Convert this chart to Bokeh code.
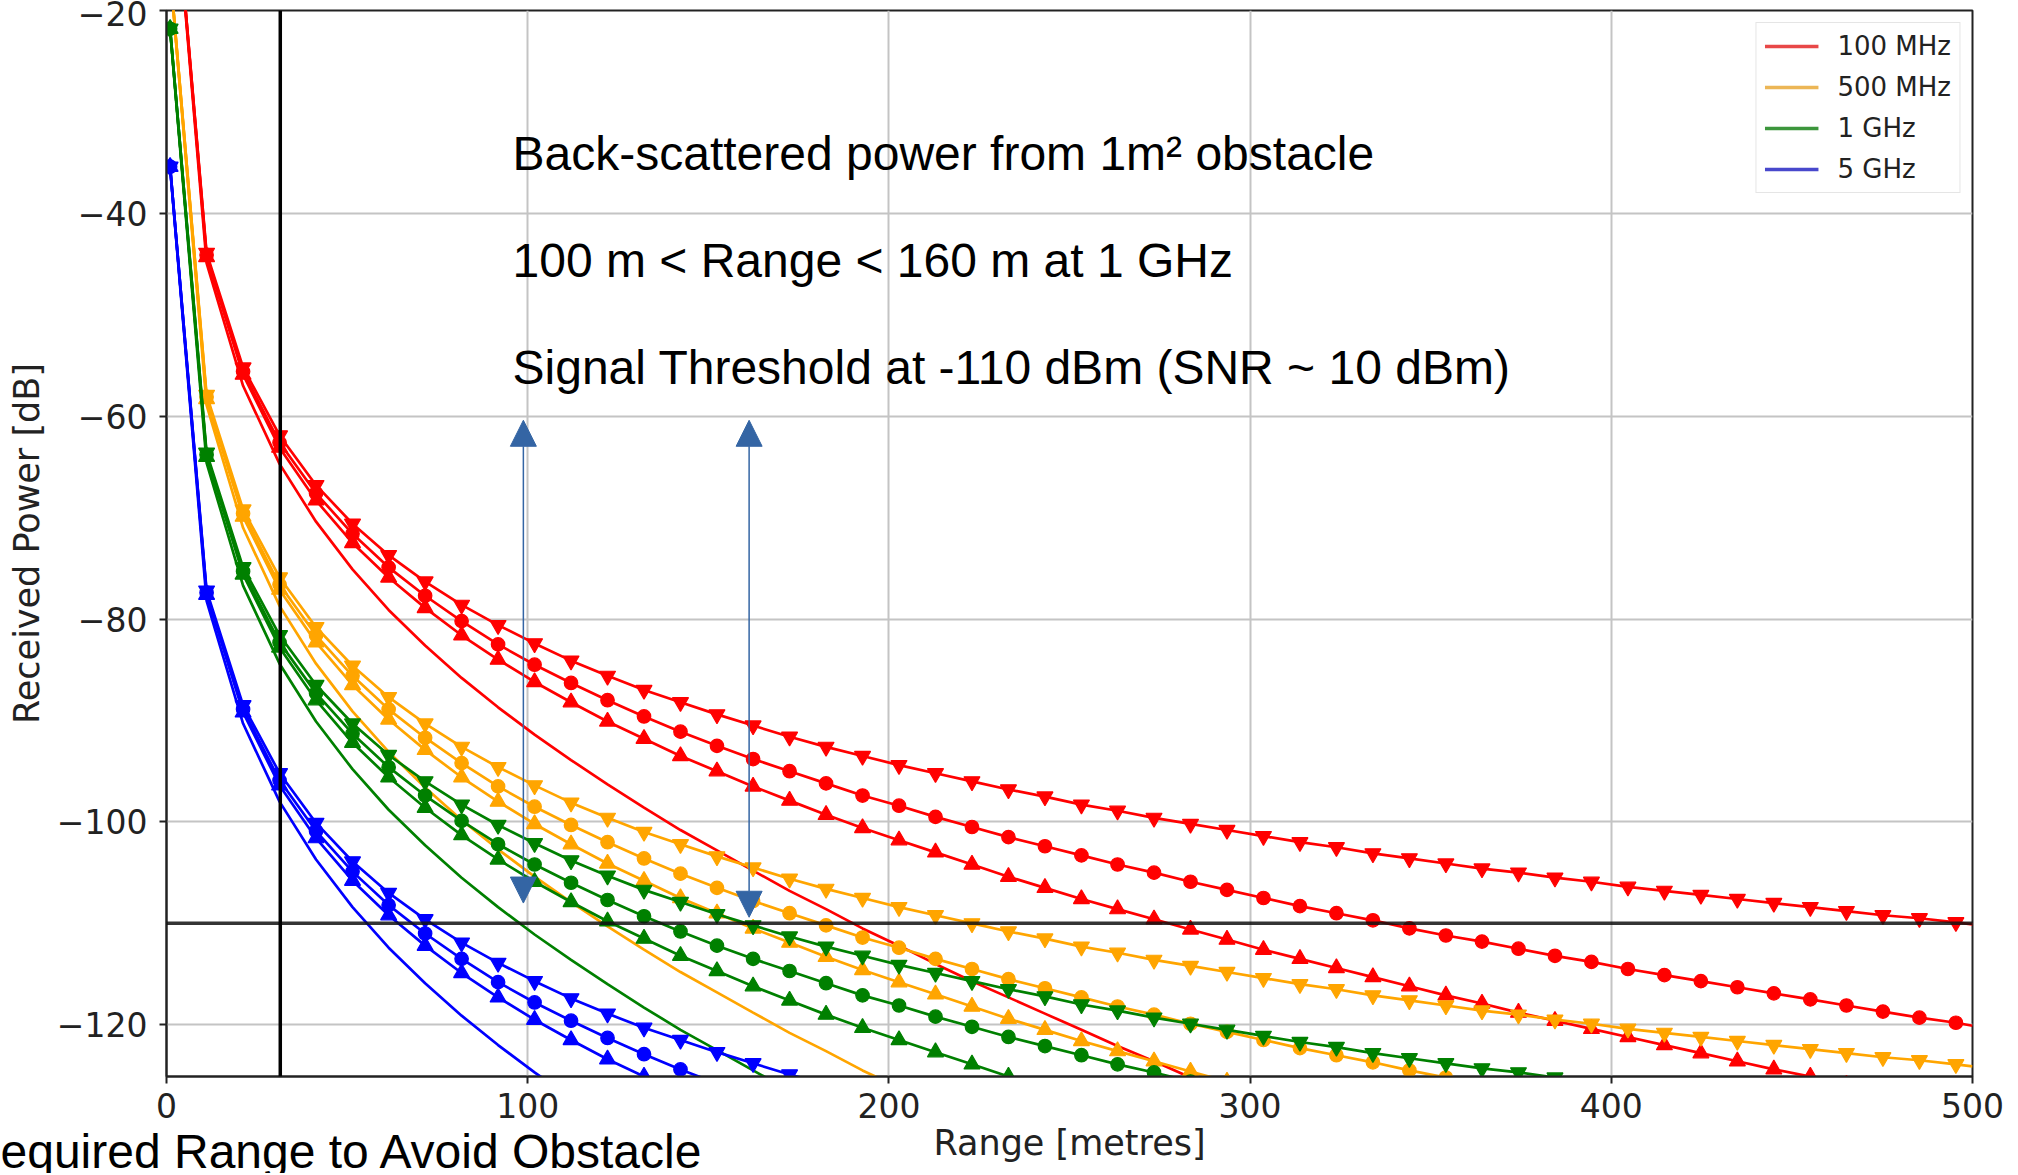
from bokeh.plotting import figure
from bokeh.models import (Range1d, FixedTicker, Span, Arrow, NormalHead, Label,
                          Legend, LegendItem, Title)
from bokeh.embed import file_html
from bokeh.resources import INLINE

# ---------------- data ----------------
range_m = [1.0, 11.1, 21.2, 31.3, 41.4, 51.5, 61.5, 71.6, 81.7, 91.8,
           101.9, 112.0, 122.1, 132.2, 142.3, 152.4, 162.4, 172.5, 182.6, 192.7,
           202.8, 212.9, 223.0, 233.1, 243.2, 253.3, 263.3, 273.4, 283.5, 293.6,
           303.7, 313.8, 323.9, 334.0, 344.1, 354.2, 364.2, 374.3, 384.4, 394.5,
           404.6, 414.7, 424.8, 434.9, 445.0, 455.1, 465.1, 475.2, 485.3, 495.4]
range_end = 500.0

frequencies = ["100 MHz", "500 MHz", "1 GHz", "5 GHz"]

red_down = [-2.1, -43.9, -55.2, -61.9, -66.8, -70.6, -73.7, -76.3, -78.6, -80.6,
            -82.4, -84.1, -85.6, -87.0, -88.2, -89.4, -90.5, -91.6, -92.6, -93.5,
            -94.4, -95.2, -96.0, -96.8, -97.5, -98.3, -98.9, -99.6, -100.2, -100.8,
            -101.4, -102.0, -102.5, -103.1, -103.6, -104.1, -104.6, -105.0, -105.5, -105.9,
            -106.4, -106.8, -107.2, -107.6, -108.0, -108.4, -108.8, -109.2, -109.5, -109.9,
            -110.1]
red_circle = [-2.1, -44.1, -55.6, -62.6, -67.6, -71.6, -74.9, -77.7, -80.2, -82.5,
              -84.5, -86.3, -88.0, -89.6, -91.1, -92.5, -93.8, -95.0, -96.2, -97.4,
              -98.4, -99.5, -100.5, -101.5, -102.4, -103.3, -104.2, -105.0, -105.9, -106.7,
              -107.5, -108.3, -109.0, -109.7, -110.5, -111.2, -111.8, -112.5, -113.2, -113.8,
              -114.5, -115.1, -115.7, -116.3, -116.9, -117.5, -118.1, -118.7, -119.3, -119.8,
              -120.1]
red_up = [-2.1, -44.3, -55.9, -63.1, -68.3, -72.5, -75.9, -78.9, -81.6, -84.0,
          -86.2, -88.2, -90.1, -91.8, -93.5, -95.0, -96.5, -97.9, -99.3, -100.6,
          -101.8, -103.0, -104.2, -105.4, -106.5, -107.6, -108.6, -109.6, -110.6, -111.6,
          -112.6, -113.5, -114.4, -115.3, -116.2, -117.1, -117.9, -118.8, -119.6, -120.4,
          -121.2, -122.0, -122.8, -123.6, -124.4, -125.1, -125.9]
red_plain = [-2.2, -44.9, -57.0, -64.7, -70.4, -75.1, -79.1, -82.6, -85.8, -88.7,
             -91.4, -93.9, -96.3, -98.6, -100.8, -102.8, -104.8, -106.8, -108.6, -110.5,
             -112.2, -114.0, -115.7, -117.3, -118.9, -120.5, -122.1, -123.6, -125.2, -126.7]

orange_down = [-16.1, -57.9, -69.2, -75.9, -80.8, -84.6, -87.7, -90.3, -92.6, -94.6,
               -96.4, -98.1, -99.6, -101.0, -102.2, -103.4, -104.5, -105.6, -106.6, -107.5,
               -108.4, -109.2, -110.0, -110.8, -111.5, -112.3, -112.9, -113.6, -114.2, -114.8,
               -115.4, -116.0, -116.5, -117.1, -117.6, -118.1, -118.6, -119.0, -119.5, -119.9,
               -120.4, -120.8, -121.2, -121.6, -122.0, -122.4, -122.8, -123.2, -123.5, -123.9,
               -124.1]
orange_circle = [-16.1, -58.1, -69.6, -76.6, -81.6, -85.6, -88.9, -91.7, -94.2, -96.5,
                 -98.5, -100.3, -102.0, -103.6, -105.1, -106.5, -107.8, -109.0, -110.2, -111.4,
                 -112.4, -113.5, -114.5, -115.5, -116.4, -117.3, -118.2, -119.0, -119.9, -120.7,
                 -121.5, -122.3, -123.0, -123.7, -124.5, -125.2, -125.8]
orange_up = [-16.1, -58.3, -69.9, -77.1, -82.3, -86.5, -89.9, -92.9, -95.6, -98.0,
             -100.2, -102.2, -104.1, -105.8, -107.5, -109.0, -110.5, -111.9, -113.3, -114.6,
             -115.8, -117.0, -118.2, -119.4, -120.5, -121.6, -122.6, -123.6, -124.6, -125.6]
orange_plain = [-16.2, -58.9, -71.0, -78.7, -84.4, -89.1, -93.1, -96.6, -99.8, -102.7,
                -105.4, -107.9, -110.3, -112.6, -114.8, -116.8, -118.8, -120.8, -122.6, -124.5,
                -126.2]

green_down = [-21.8, -63.6, -74.9, -81.6, -86.5, -90.3, -93.4, -96.0, -98.3, -100.3,
              -102.1, -103.8, -105.3, -106.7, -107.9, -109.1, -110.2, -111.3, -112.3, -113.2,
              -114.1, -114.9, -115.7, -116.5, -117.2, -118.0, -118.6, -119.3, -119.9, -120.5,
              -121.1, -121.7, -122.2, -122.8, -123.3, -123.8, -124.3, -124.7, -125.2]
green_circle = [-21.8, -63.8, -75.3, -82.3, -87.3, -91.3, -94.6, -97.4, -99.9, -102.2,
                -104.2, -106.0, -107.7, -109.3, -110.8, -112.2, -113.5, -114.7, -115.9, -117.1,
                -118.1, -119.2, -120.2, -121.2, -122.1, -123.0, -123.9, -124.7, -125.6]
green_up = [-21.8, -64.0, -75.6, -82.8, -88.0, -92.2, -95.6, -98.6, -101.3, -103.7,
            -105.9, -107.9, -109.8, -111.5, -113.2, -114.7, -116.2, -117.6, -119.0, -120.3,
            -121.5, -122.7, -123.9, -125.1, -126.2]
green_plain = [-21.9, -64.6, -76.7, -84.4, -90.1, -94.8, -98.8, -102.3, -105.5, -108.4,
               -111.1, -113.6, -116.0, -118.3, -120.5, -122.5, -124.5, -126.5]

blue_down = [-35.4, -77.2, -88.5, -95.2, -100.1, -103.9, -107.0, -109.6, -111.9, -113.9,
             -115.7, -117.4, -118.9, -120.3, -121.5, -122.7, -123.8, -124.9, -125.9]
blue_circle = [-35.4, -77.4, -88.9, -95.9, -100.9, -104.9, -108.2, -111.0, -113.5, -115.8,
               -117.8, -119.6, -121.3, -122.9, -124.4, -125.8]
blue_up = [-35.4, -77.6, -89.2, -96.4, -101.6, -105.8, -109.2, -112.2, -114.9, -117.3,
           -119.5, -121.5, -123.4, -125.1, -126.8]
blue_plain = [-35.5, -78.2, -90.3, -98.0, -103.7, -108.4, -112.4, -115.9, -119.1, -122.0,
              -124.7, -127.2]

x_ticks = [0, 100, 200, 300, 400, 500]
y_ticks = [-120, -100, -80, -60, -40, -20]
y_tick_labels = ["\u2212120", "\u2212100", "\u221280", "\u221260", "\u221240", "\u221220"]

threshold_db = -110
obstacle_range = 31.5
arrow_x = [98.8, 161.3]
arrow_bottom = [-108.0, -109.4]
arrow_top = [-60.4, -60.4]

notes = ["Back-scattered power from 1m\u00b2 obstacle",
         "100 m < Range < 160 m at 1 GHz",
         "Signal Threshold at -110 dBm (SNR ~ 10 dBm)"]
note_x = 95.8
note_y = [-34.1, -44.6, -55.2]
bottom_note = "equired Range to Avoid Obstacle"
x_label = "Range [metres]"
y_label = "Received Power [dB]"

# ---------------- styling ----------------
legend_colors = ["#e84848", "#ecb656", "#3c963c", "#4848cc"]
arrow_color = "#3465a4"
ink = "#222222"

series = [
    ("red", None, red_plain), ("red", "triangle", red_up),
    ("red", "circle", red_circle), ("red", "inverted_triangle", red_down),
    ("orange", None, orange_plain), ("orange", "triangle", orange_up),
    ("orange", "circle", orange_circle), ("orange", "inverted_triangle", orange_down),
    ("green", None, green_plain), ("green", "triangle", green_up),
    ("green", "circle", green_circle), ("green", "inverted_triangle", green_down),
    ("blue", None, blue_plain), ("blue", "triangle", blue_up),
    ("blue", "circle", blue_circle), ("blue", "inverted_triangle", blue_down),
]
marker_size = {"circle": 13.5, "triangle": 16, "inverted_triangle": 16}

p = figure(width=2016, height=1173,
           x_range=Range1d(0, 500), y_range=Range1d(-125.1, -20),
           output_backend="svg", toolbar_location=None,
           min_border_left=166, min_border_right=44,
           min_border_top=10, min_border_bottom=97,
           y_axis_label=y_label)

p.background_fill_color = "white"
p.border_fill_color = "white"
p.outline_line_color = ink
p.outline_line_width = 2

p.xaxis.ticker = FixedTicker(ticks=x_ticks)
p.yaxis.ticker = FixedTicker(ticks=y_ticks)
p.xgrid.ticker = FixedTicker(ticks=x_ticks)
p.ygrid.ticker = FixedTicker(ticks=y_ticks)
p.yaxis.major_label_overrides = dict(zip(y_ticks, y_tick_labels))
p.grid.grid_line_color = "#c4c4c4"
p.grid.grid_line_width = 2

p.axis.axis_line_color = ink
p.axis.axis_line_width = 2
p.axis.major_tick_out = 7
p.axis.major_tick_in = 0
p.axis.minor_tick_out = 0
p.axis.minor_tick_in = 0
p.axis.major_tick_line_color = ink
p.axis.major_tick_line_width = 2
p.axis.major_label_text_font = "DejaVu Sans"
p.axis.major_label_text_font_size = "33px"
p.axis.major_label_text_color = ink
p.axis.axis_label_text_font = "DejaVu Sans"
p.axis.axis_label_text_font_size = "35px"
p.axis.axis_label_text_font_style = "normal"
p.axis.axis_label_text_color = ink
p.xaxis.major_label_standoff = 9
p.yaxis.major_label_standoff = 12
p.yaxis.axis_label_standoff = 7

# x-axis label and the cut-off note sit in the panel below the axis
p.add_layout(Title(text=x_label, align="center", vertical_align="middle",
                   text_font="DejaVu Sans", text_font_size="35px",
                   text_font_style="normal", text_color=ink, standoff=3), "below")
p.add_layout(Title(text=bottom_note, align="left", vertical_align="top", offset=-166,
                   text_font="Liberation Sans", text_font_size="48px",
                   text_font_style="normal", text_color="black", standoff=-82), "below")

x_line = range_m + [range_end]
for color, marker, ys in series:
    xs = x_line[:len(ys)]
    p.line(xs, ys, line_color=color, line_width=2.7)
    if marker:
        n = min(len(ys), len(range_m))
        p.scatter(range_m[:n], ys[:n], marker=marker, size=marker_size[marker],
                  fill_color=color, line_color=color, line_width=1.2)

# threshold and obstacle lines
p.add_layout(Span(location=threshold_db, dimension="width", line_color="#111111",
                  line_width=3.5, line_alpha=0.85))
p.add_layout(Span(location=obstacle_range, dimension="height", line_color="black",
                  line_width=3.5))

# double-headed blue arrows
for ax, yb, yt in zip(arrow_x, arrow_bottom, arrow_top):
    p.add_layout(Arrow(start=NormalHead(size=26, fill_color=arrow_color, line_color=arrow_color),
                       end=NormalHead(size=26, fill_color=arrow_color, line_color=arrow_color),
                       x_start=ax, y_start=yb, x_end=ax, y_end=yt,
                       line_color=arrow_color, line_width=1.5))

# text notes
for txt, ny in zip(notes, note_y):
    p.add_layout(Label(x=note_x, y=ny, text=txt, text_font="Liberation Sans",
                       text_font_size="48px", text_color="black",
                       text_baseline="alphabetic", text_align="left"))

# legend (line samples only)
legend_renderers = [p.line([-60, -50], [-70, -70], line_color=c, line_width=3.5)
                    for c in legend_colors]
legend = Legend(items=[LegendItem(label=f, renderers=[r])
                       for f, r in zip(frequencies, legend_renderers)],
                location="top_right", margin=12, padding=8, spacing=11,
                glyph_width=54, glyph_height=30, label_height=30, label_standoff=19,
                label_text_font="DejaVu Sans", label_text_font_size="26px",
                label_text_color=ink, border_line_color="#cccccc", border_line_width=1.5,
                background_fill_color="white", background_fill_alpha=0.85)
p.add_layout(legend)

open("out.html", "w").write(file_html(p, INLINE))
